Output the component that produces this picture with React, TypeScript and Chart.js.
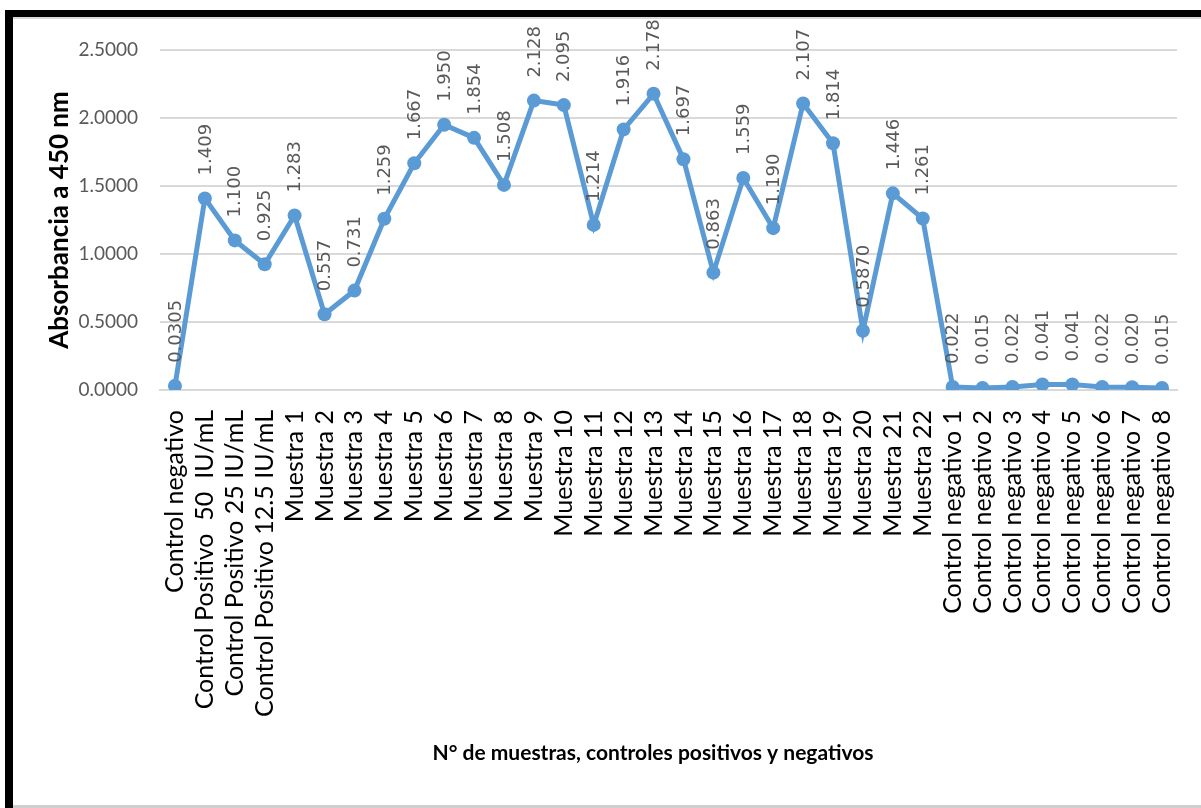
import React, { useEffect, useRef } from "react";
import { Chart, registerables } from "chart.js";

Chart.register(...registerables);

const categories: string[] = [
  "Control negativo",
  "Control Positivo  50  IU/mL",
  "Control Positivo 25 IU/mL",
  "Control Positivo 12.5 IU/mL",
  "Muestra 1", "Muestra 2", "Muestra 3", "Muestra 4", "Muestra 5", "Muestra 6",
  "Muestra 7", "Muestra 8", "Muestra 9", "Muestra 10", "Muestra 11", "Muestra 12",
  "Muestra 13", "Muestra 14", "Muestra 15", "Muestra 16", "Muestra 17", "Muestra 18",
  "Muestra 19", "Muestra 20", "Muestra 21", "Muestra 22",
  "Control negativo 1", "Control negativo 2", "Control negativo 3", "Control negativo 4",
  "Control negativo 5", "Control negativo 6", "Control negativo 7", "Control negativo 8",
];

const absorbance: number[] = [
  0.0305, 1.409, 1.1, 0.925, 1.283, 0.557, 0.731, 1.259, 1.667, 1.95,
  1.854, 1.508, 2.128, 2.095, 1.214, 1.916, 2.178, 1.697, 0.863, 1.559,
  1.19, 2.107, 1.814, 0.436, 1.446, 1.261,
  0.022, 0.015, 0.022, 0.041, 0.041, 0.022, 0.02, 0.015,
];

const pointLabels: string[] = [
  "0.0305", "1.409", "1.100", "0.925", "1.283", "0.557", "0.731", "1.259", "1.667", "1.950",
  "1.854", "1.508", "2.128", "2.095", "1.214", "1.916", "2.178", "1.697", "0.863", "1.559",
  "1.190", "2.107", "1.814", "0.5870", "1.446", "1.261",
  "0.022", "0.015", "0.022", "0.041", "0.041", "0.022", "0.020", "0.015",
];

const yTitle = "Absorbancia a 450 nm";
const xTitle = "N° de muestras, controles positivos y negativos";

const W = 1201;
const H = 808;

export default function App() {
  const ref = useRef<HTMLCanvasElement | null>(null);

  useEffect(() => {
    const canvas = ref.current;
    if (!canvas) return;

    const framePlugin = {
      id: "frame",
      beforeDraw(chart: any) {
        const ctx = chart.ctx;
        ctx.save();
        ctx.fillStyle = "#ffffff";
        ctx.fillRect(0, 0, W, H);
        ctx.fillStyle = "#d9d9d9";
        ctx.fillRect(13, 17, W - 13, 2);
        ctx.fillStyle = "#cfcfcf";
        ctx.fillRect(13, 805, W - 13, 3);
        ctx.fillStyle = "#000000";
        ctx.fillRect(5, 10, W - 5, 7);
        ctx.fillRect(5, 10, 8, H - 10);
        ctx.restore();
      },
    };

    const labelPlugin = {
      id: "pointLabels",
      afterDatasetsDraw(chart: any) {
        const ctx = chart.ctx;
        const meta = chart.getDatasetMeta(0);
        ctx.save();
        ctx.font = '18px "DejaVu Sans"';
        ctx.fillStyle = "#595959";
        ctx.textAlign = "left";
        ctx.textBaseline = "middle";
        meta.data.forEach((pt: any, i: number) => {
          ctx.save();
          ctx.translate(pt.x + 1, pt.y - 23);
          ctx.rotate(-Math.PI / 2);
          ctx.fillText(pointLabels[i], 0, 0);
          ctx.restore();
        });
        ctx.restore();
      },
      afterDraw(chart: any) {
        const ctx = chart.ctx;
        ctx.save();
        ctx.font = 'bold 21px Lato';
        ctx.fillStyle = "#000000";
        ctx.textAlign = "center";
        ctx.textBaseline = "middle";
        ctx.fillText(xTitle, 653, 753);
        ctx.restore();
      },
    };

    const chart = new Chart(canvas, {
      type: "line",
      data: {
        labels: categories,
        datasets: [
          {
            data: absorbance,
            borderColor: "#5b9bd5",
            backgroundColor: "#5b9bd5",
            borderWidth: 5,
            pointRadius: 7,
            pointHoverRadius: 7,
            pointBackgroundColor: "#5b9bd5",
            pointBorderWidth: 0,
            tension: 0,
            fill: false,
          },
        ],
      },
      options: {
        responsive: false,
        animation: false,
        devicePixelRatio: 1,
        layout: { padding: { left: 0, top: 50, right: 24, bottom: 0 } },
        plugins: {
          legend: { display: false },
          tooltip: { enabled: false },
          title: { display: false },
        },
        scales: {
          x: {
            type: "category",
            offset: true,
            grid: { display: false, drawTicks: false },
            border: { display: true, color: "#d9d9d9", width: 2 },
            ticks: {
              autoSkip: false,
              minRotation: 90,
              maxRotation: 90,
              padding: 20,
              color: "#000000",
              font: { family: "Lato", size: 25 },
            },
            afterFit(scale: any) {
              scale.height = 418;
              scale.paddingLeft = 0;
              scale.paddingRight = 0;
            },
          },
          y: {
            min: 0,
            max: 2.5,
            grid: { color: "#d9d9d9", lineWidth: 2, drawTicks: false },
            border: { display: false },
            ticks: {
              stepSize: 0.5,
              padding: 22,
              color: "#595959",
              font: { family: "Lato", size: 19 },
              callback: (v: any) => Number(v).toFixed(4),
            },
            title: {
              display: true,
              text: yTitle,
              color: "#000000",
              font: { family: "Lato", size: 26, weight: "bold" },
              padding: { top: 44, bottom: 0 },
            },
            afterFit(scale: any) {
              scale.width = 160;
            },
          },
        },
      },
      plugins: [framePlugin, labelPlugin],
    });

    return () => chart.destroy();
  }, []);

  return (
    <div style={{ position: "fixed", left: 0, top: 0, width: W, height: H, background: "#fff" }}>
      <canvas ref={ref} width={W} height={H} style={{ width: W, height: H, display: "block" }} />
    </div>
  );
}
